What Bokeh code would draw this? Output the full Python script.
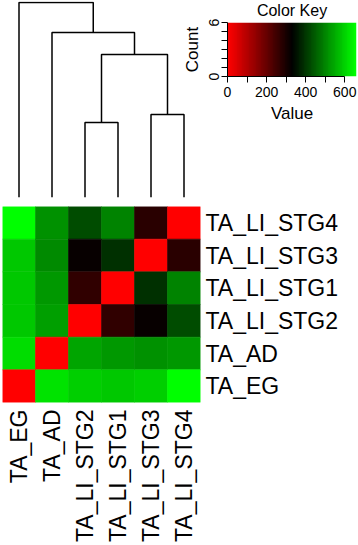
import math
import numpy as np
from bokeh.plotting import figure
from bokeh.models import (ColumnDataSource, LinearColorMapper, FactorRange, Range1d,
                          FixedTicker)
from bokeh.layouts import column, row
from bokeh.embed import file_html
from bokeh.resources import INLINE

FONT = "Liberation Sans"

# ---------------- data ----------------
col_labels = ["TA_EG", "TA_AD", "TA_LI_STG2", "TA_LI_STG1", "TA_LI_STG3", "TA_LI_STG4"]
row_labels = ["TA_LI_STG4", "TA_LI_STG3", "TA_LI_STG1", "TA_LI_STG2", "TA_AD", "TA_EG"]  # top -> bottom
values = [
    [660, 511, 427, 498, 278, 0],    # TA_LI_STG4
    [589, 505, 317, 388, 0, 278],    # TA_LI_STG3
    [589, 524, 265, 0, 388, 498],    # TA_LI_STG1
    [589, 531, 0, 272, 317, 427],    # TA_LI_STG2
    [608, 0, 537, 524, 511, 524],    # TA_AD
    [0, 621, 595, 589, 595, 660],    # TA_EG
]
# column dendrogram (hclust style): leaves by name, earlier merges by index
merges = [("TA_LI_STG2", "TA_LI_STG1"), ("TA_LI_STG3", "TA_LI_STG4"), (0, 1), ("TA_AD", 2), ("TA_EG", 3)]
merge_heights = [75, 83, 143, 165, 195]

key_ticks = [0, 200, 400, 600]
key_minor = [100, 300, 500]
count_ticks = [0, 6]
count_minor = [1, 2, 3, 4, 5]
vmin, vmax = 0, 660


def redgreen(n):
    cols = []
    for i in range(n):
        t = i / (n - 1)
        if t < 0.5:
            r, g = round(255 * (1 - 2 * t)), 0
        else:
            r, g = 0, round(255 * (2 * t - 1))
        cols.append("#%02x%02x%02x" % (r, g, 0))
    return cols


mapper = LinearColorMapper(palette=redgreen(75), low=vmin, high=vmax)

# ---------------- dendrogram ----------------
dend = figure(width=200, height=206, output_backend="svg", toolbar_location=None,
              x_range=Range1d(0, len(col_labels)), y_range=Range1d(0, 196),
              x_axis_location=None, y_axis_location=None,
              min_border_left=2, min_border_right=0, min_border_top=1, min_border_bottom=9)
dend.grid.visible = False
dend.outline_line_color = None

leaf_x = {name: i + 0.5 for i, name in enumerate(col_labels)}
node_x, node_h = [], []
xs, ys = [], []
for (a, b), h in zip(merges, merge_heights):
    def get(c):
        if isinstance(c, int):
            return node_x[c], node_h[c]
        return leaf_x[c], 0.0
    xa, ha = get(a)
    xb, hb = get(b)
    xs.append([xa, xa, xb, xb])
    ys.append([ha, h, h, hb])
    node_x.append((xa + xb) / 2)
    node_h.append(h)
dend.multi_line(xs, ys, line_color="black", line_width=1.5)

# ---------------- color key ----------------
key = figure(width=183, height=206, output_backend="svg", toolbar_location=None,
             x_range=Range1d(vmin, vmax), y_range=Range1d(0, 6),
             min_border_left=52, min_border_right=2, min_border_top=20, min_border_bottom=130)
key.border_fill_color = None
key.outline_line_color = None
key.grid.visible = False
key.title.text = "Color Key"
key.title.align = "center"
key.title.vertical_align = "top"
key.title.text_font = FONT
key.title.text_font_size = "16px"
key.title.text_font_style = "normal"
key.title.text_color = "black"
key.title.standoff = 3

grad = np.linspace(vmin, vmax, 300).reshape(1, -1)
key.image(image=[grad], x=vmin, y=0, dw=vmax - vmin, dh=6, color_mapper=mapper)

key.xaxis.ticker = FixedTicker(ticks=key_ticks, minor_ticks=key_minor)
key.yaxis.ticker = FixedTicker(ticks=count_ticks, minor_ticks=count_minor)
key.xaxis.bounds = (key_ticks[0], key_ticks[-1])
key.yaxis.bounds = (count_ticks[0], count_ticks[-1])
key.xaxis.axis_label = "Value"
key.yaxis.axis_label = "Count"
key.yaxis.major_label_orientation = "parallel"
for ax in (key.xaxis[0], key.yaxis[0]):
    ax.major_tick_out = 6
    ax.major_tick_in = 0
    ax.minor_tick_out = 6
    ax.minor_tick_in = 0
    ax.major_tick_line_color = "black"
    ax.minor_tick_line_color = "black"
    ax.axis_line_color = "black"
    ax.major_label_text_font = FONT
    ax.major_label_text_font_size = "14px"
    ax.major_label_text_color = "black"
    ax.axis_label_text_font = FONT
    ax.axis_label_text_font_size = "17px"
    ax.axis_label_text_font_style = "normal"
    ax.axis_label_text_color = "black"
key.xaxis.major_label_standoff = 4
key.xaxis.axis_label_standoff = 4
key.yaxis.major_label_standoff = 3
key.yaxis.axis_label_standoff = 4

# ---------------- heatmap ----------------
heat = figure(width=358, height=339, output_backend="svg", toolbar_location=None,
              x_range=FactorRange(*col_labels), y_range=FactorRange(*row_labels[::-1]),
              x_axis_location="below", y_axis_location="right",
              min_border_left=2, min_border_right=158, min_border_top=0, min_border_bottom=142)
heat.grid.visible = False
heat.outline_line_color = None

cx, cy, cv = [], [], []
for r, rname in enumerate(row_labels):
    for c, cname in enumerate(col_labels):
        cx.append(cname)
        cy.append(rname)
        cv.append(values[r][c])
src = ColumnDataSource(dict(x=cx, y=cy, v=cv))
heat.rect(x="x", y="y", width=1, height=1, source=src,
          fill_color={"field": "v", "transform": mapper},
          line_color={"field": "v", "transform": mapper}, line_width=0.6)

for ax in (heat.xaxis[0], heat.yaxis[0]):
    ax.axis_line_color = None
    ax.major_tick_line_color = None
    ax.minor_tick_line_color = None
    ax.major_tick_out = 0
    ax.major_tick_in = 0
    ax.major_label_text_font = FONT
    ax.major_label_text_font_size = "23px"
    ax.major_label_text_color = "black"
heat.xaxis.major_label_orientation = math.pi / 2
heat.xaxis.major_label_standoff = 7
heat.yaxis.major_label_standoff = 5

# wrap each top figure in its own column so their frames are not aligned to each other
top = row(column(dend), column(key, margin=(0, 0, 0, -25)))
layout = column(top, heat)
open("out.html", "w").write(file_html(layout, INLINE))
